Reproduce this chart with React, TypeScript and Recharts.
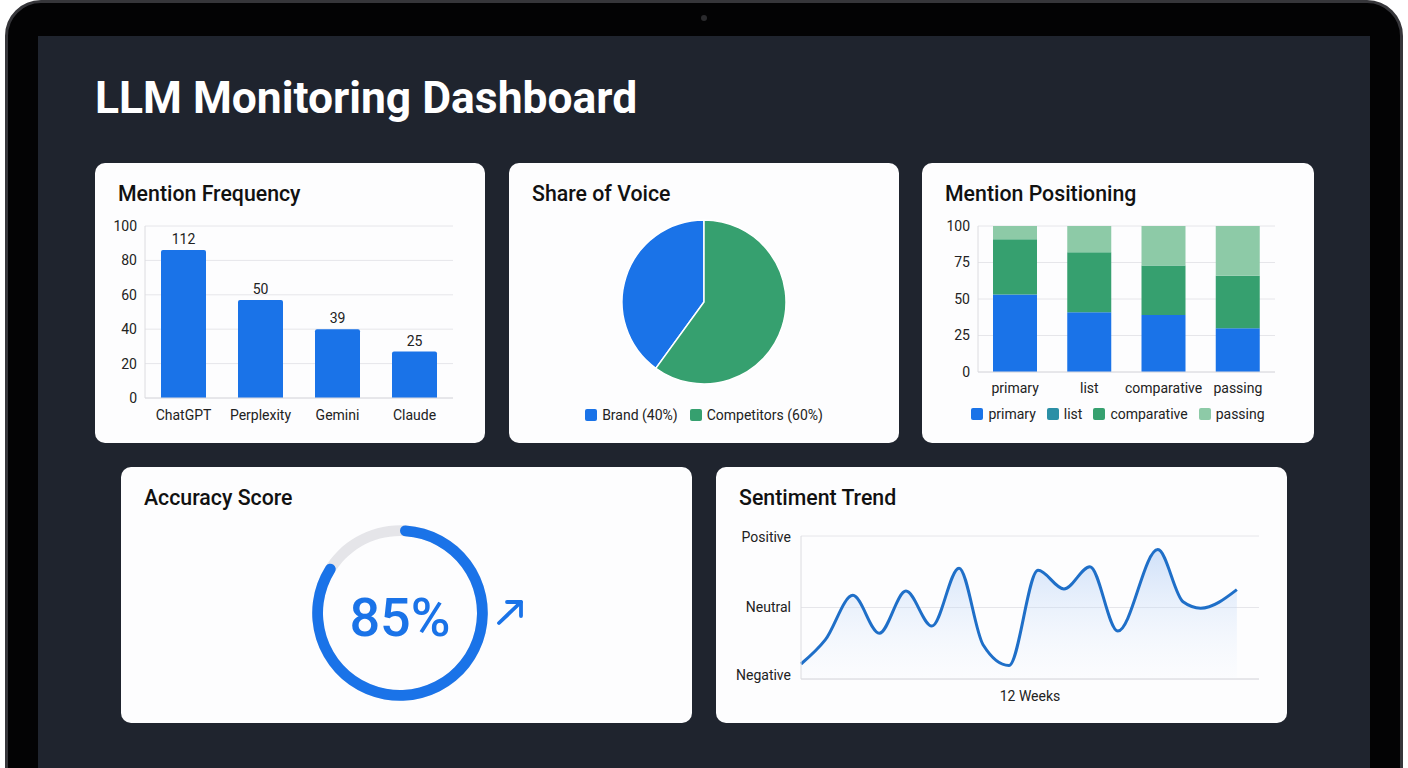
import React from 'react';
import {
  BarChart,
  Bar,
  XAxis,
  YAxis,
  CartesianGrid,
  LabelList,
  PieChart,
  Pie,
  Cell,
  Legend,
  RadialBarChart,
  RadialBar,
  PolarAngleAxis,
  AreaChart,
  Area,
} from 'recharts';

// Mention Frequency
const llmNames = ['ChatGPT', 'Perplexity', 'Gemini', 'Claude'];
const mentionBars = [86, 57, 40, 27];
const mentionLabels = [112, 50, 39, 25];
const mentionTicks = [0, 20, 40, 60, 80, 100];

// Share of Voice
const voiceNames = ['Brand', 'Competitors'];
const voiceShares = [40, 60];

// Mention Positioning
const positionCategories = ['primary', 'list', 'comparative', 'passing'];
const primaryShare = [53, 41, 39, 30];
const listShare = [0, 0, 0, 0];
const comparativeShare = [38, 41, 34, 36];
const passingShare = [9, 18, 27, 34];
const positionTicks = [0, 25, 50, 75, 100];

// Accuracy Score
const accuracyScore = 85;

// Sentiment Trend
const sentimentWeeks = [0, 0.64, 1.36, 2.05, 2.75, 3.43, 4.14, 4.77, 5.45, 6.21, 6.89, 7.57, 8.3, 9.35, 10.01, 10.47, 11.42];
const sentimentScores = [-0.79, -0.45, 0.17, -0.36, 0.23, -0.26, 0.55, -0.52, -0.81, 0.52, 0.26, 0.57, -0.33, 0.81, 0.08, -0.01, 0.25];
const sentimentTicks = [-1, 0, 1];
const sentimentLabels = ['Negative', 'Neutral', 'Positive'];

const BLUE = '#1a73e8';
const TEAL = '#2b8fa6';
const GREEN = '#36a06f';
const LIGHT_GREEN = '#8dcaa7';
const GRID = '#e6e6ea';
const TEXT = '#222';

const mentionData = llmNames.map((name, i) => ({ name, value: mentionBars[i], label: mentionLabels[i] }));
const voiceData = voiceNames.map((name, i) => ({ name: `${name} (${voiceShares[i]}%)`, value: voiceShares[i] }));
const voiceColors = [BLUE, GREEN];
const positionData = positionCategories.map((name, i) => ({
  name,
  primary: primaryShare[i],
  list: listShare[i],
  comparative: comparativeShare[i],
  passing: passingShare[i],
}));
const positionColors: Record<string, string> = { primary: BLUE, list: TEAL, comparative: GREEN, passing: LIGHT_GREEN };
const sentimentData = sentimentWeeks.map((week, i) => ({ week, score: sentimentScores[i] }));

function Card({ left, top, width, height, title, children }: any) {
  return (
    <div
      style={{
        position: 'absolute',
        left,
        top,
        width,
        height,
        background: '#fdfdfe',
        borderRadius: 10,
        overflow: 'hidden',
      }}
    >
      <div style={{ position: 'absolute', left: 23, top: 18, fontSize: 21.3, fontWeight: 500, color: '#111', whiteSpace: 'nowrap' }}>
        {title}
      </div>
      {children}
    </div>
  );
}

function SquareLegend({ items, gap = 12 }: { items: { label: string; color: string }[]; gap?: number }) {
  return (
    <div style={{ display: 'flex', justifyContent: 'center', alignItems: 'center', height: 22, fontSize: 14, color: TEXT }}>
      {items.map((it, i) => (
        <div key={it.label} style={{ display: 'flex', alignItems: 'center', marginLeft: i === 0 ? 0 : gap }}>
          <span style={{ width: 12, height: 12, borderRadius: 2, background: it.color, marginRight: 5, display: 'inline-block' }} />
          <span>{it.label}</span>
        </div>
      ))}
    </div>
  );
}

// sentiment tick: nudge the end labels a little like the original
function SentimentTick({ x, y, payload }: any) {
  const v = payload.value;
  const dy = v === -1 ? -4 : v === 1 ? 1 : 0;
  return (
    <text x={x} y={y + dy} dy="0.355em" textAnchor="end" fontSize={14} fill={TEXT}>
      {sentimentLabels[sentimentTicks.indexOf(v)]}
    </text>
  );
}

export default function App() {
  const tick = { fontSize: 14, fill: TEXT };
  return (
    <div
      style={{
        position: 'absolute',
        left: 0,
        top: 0,
        width: 1408,
        height: 768,
        overflow: 'hidden',
        background: '#ffffff',
        fontFamily: 'Roboto, sans-serif',
      }}
    >
      {/* laptop bezel */}
      <div
        style={{
          position: 'absolute',
          left: 5,
          top: 0,
          width: 1398,
          height: 820,
          boxSizing: 'border-box',
          borderRadius: 36,
          background: '#030304',
          border: '3px solid #36363a',
        }}
      />
      <div style={{ position: 'absolute', left: 701, top: 15, width: 6, height: 6, borderRadius: 3, background: '#2a2a2d' }} />
      {/* screen */}
      <div style={{ position: 'absolute', left: 38, top: 36, width: 1332, height: 760, background: '#1f242e' }}>
        <div
          style={{
            position: 'absolute',
            left: 57,
            top: 36,
            fontSize: 44.4,
            fontWeight: 700,
            color: '#ffffff',
            whiteSpace: 'nowrap',
          }}
        >
          LLM Monitoring Dashboard
        </div>
      </div>

      <Card left={95} top={163} width={390} height={280} title="Mention Frequency">
        <div style={{ position: 'absolute', left: 0, top: 50 }}>
          <BarChart width={390} height={220} data={mentionData} margin={{ top: 13, right: 32, bottom: 5, left: 10 }}>
            <CartesianGrid vertical={false} stroke={GRID} />
            <XAxis dataKey="name" tickLine={false} axisLine={{ stroke: '#dcdce0' }} tick={tick} tickMargin={6} />
            <YAxis
              width={40}
              domain={[0, 100]}
              ticks={mentionTicks}
              tickLine={false}
              axisLine={{ stroke: '#dcdce0' }}
              tick={tick}
            />
            <Bar dataKey="value" fill={BLUE} barSize={45} radius={[2, 2, 0, 0]} isAnimationActive={false}>
              <LabelList dataKey="label" position="top" offset={6} style={{ fontSize: 14, fill: TEXT }} />
            </Bar>
          </BarChart>
        </div>
      </Card>

      <Card left={509} top={163} width={390} height={280} title="Share of Voice">
        <div style={{ position: 'absolute', left: 0, top: 0 }}>
          <PieChart width={390} height={280} margin={{ top: 0, right: 0, bottom: 0, left: 0 }}>
            <Pie
              data={voiceData}
              dataKey="value"
              nameKey="name"
              cx={195}
              cy={139}
              outerRadius={82}
              startAngle={90}
              endAngle={450}
              stroke="#ffffff"
              strokeWidth={1.5}
              isAnimationActive={false}
            >
              {voiceData.map((d, i) => (
                <Cell key={d.name} fill={voiceColors[i]} />
              ))}
            </Pie>
            <Legend
              wrapperStyle={{ top: 241, left: 0, width: 390 }}
              content={() => <SquareLegend items={voiceData.map((d, i) => ({ label: d.name, color: voiceColors[i] }))} />}
            />
          </PieChart>
        </div>
      </Card>

      <Card left={922} top={163} width={392} height={280} title="Mention Positioning">
        <div style={{ position: 'absolute', left: 0, top: 50 }}>
          <BarChart width={392} height={220} data={positionData} margin={{ top: 13, right: 39, bottom: 9, left: 16 }}>
            <CartesianGrid vertical={false} stroke={GRID} />
            <XAxis dataKey="name" tickLine={false} axisLine={{ stroke: '#dcdce0' }} tick={tick} tickMargin={5} />
            <YAxis
              width={40}
              domain={[0, 100]}
              ticks={positionTicks}
              tickLine={false}
              axisLine={{ stroke: '#dcdce0' }}
              tick={tick}
            />
            {positionCategories.map((key) => (
              <Bar key={key} dataKey={key} stackId="pos" fill={positionColors[key]} barSize={44} isAnimationActive={false} />
            ))}
            <Legend
              wrapperStyle={{ top: 190, left: 0, width: 392 }}
              content={() => <SquareLegend gap={11} items={positionCategories.map((k) => ({ label: k, color: positionColors[k] }))} />}
            />
          </BarChart>
        </div>
      </Card>

      <Card left={121} top={467} width={571} height={256} title="Accuracy Score">
        <div style={{ position: 'absolute', left: 0, top: 0 }}>
          <RadialBarChart
            width={571}
            height={256}
            cx={279}
            cy={146}
            innerRadius={76}
            outerRadius={88}
            barSize={12}
            startAngle={90}
            endAngle={-270}
            data={[{ name: 'accuracy', value: accuracyScore }]}
            margin={{ top: 0, right: 0, bottom: 0, left: 0 }}
          >
            <PolarAngleAxis type="number" domain={[0, 100]} tick={false} axisLine={false} />
            <RadialBar dataKey="value" fill={BLUE} background={{ fill: '#e5e5e9' }} cornerRadius={6} isAnimationActive={false} />
          </RadialBarChart>
        </div>
        <div
          style={{
            position: 'absolute',
            left: 179,
            top: 119,
            width: 200,
            textAlign: 'center',
            fontSize: 54,
            fontWeight: 500,
            color: BLUE,
            lineHeight: 'normal',
          }}
        >
          {accuracyScore}%
        </div>
        <svg style={{ position: 'absolute', left: 0, top: 0 }} width={571} height={256}>
          <g stroke={BLUE} strokeWidth={3.8} strokeLinecap="round" strokeLinejoin="round" fill="none">
            <line x1={378} y1={156} x2={400} y2={135} />
            <polyline points="386,135 400,135 400,149" />
          </g>
        </svg>
      </Card>

      <Card left={716} top={467} width={571} height={256} title="Sentiment Trend">
        <div style={{ position: 'absolute', left: 0, top: 50 }}>
          <AreaChart width={571} height={200} data={sentimentData} margin={{ top: 19, right: 28, bottom: 8, left: 15 }}>
            <defs>
              <linearGradient id="sentFill" x1="0" y1="0" x2="0" y2="1">
                <stop offset="0%" stopColor="#9fc2f3" stopOpacity={0.8} />
                <stop offset="100%" stopColor="#eef4fd" stopOpacity={0.2} />
              </linearGradient>
            </defs>
            <CartesianGrid vertical={false} stroke={GRID} />
            <XAxis
              dataKey="week"
              type="number"
              domain={[0, 12]}
              tick={false}
              tickLine={false}
              axisLine={{ stroke: '#dcdce0' }}
              label={{ value: '12 Weeks', position: 'insideBottom', offset: 8, style: { fontSize: 14, fill: TEXT } }}
            />
            <YAxis
              width={70}
              type="number"
              domain={[-1, 1]}
              ticks={sentimentTicks}
              tickLine={false}
              axisLine={{ stroke: '#dcdce0' }}
              tick={<SentimentTick />}
              tickMargin={4}
            />
            <Area
              type="monotone"
              dataKey="score"
              baseValue="dataMin"
              stroke="#1f6fc8"
              strokeWidth={3}
              fill="url(#sentFill)"
              isAnimationActive={false}
            />
          </AreaChart>
        </div>
      </Card>
    </div>
  );
}
